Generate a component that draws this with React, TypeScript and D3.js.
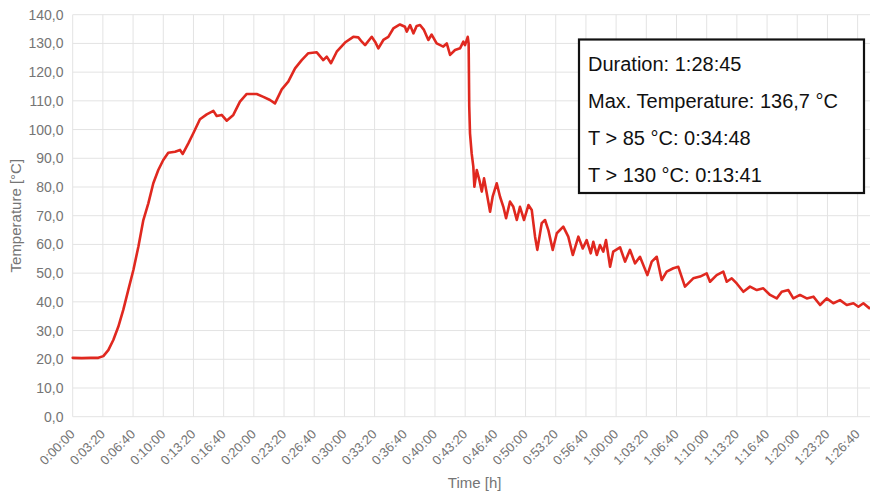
import React from "react";
import * as d3 from "d3";

const timeSec = [
  0, 60, 120, 170, 203, 236, 269, 302, 335, 368, 402, 435, 468, 501, 534, 567, 600, 633, 678, 711,
  729, 766, 799, 843, 888, 932, 954, 987, 1020, 1064, 1108, 1153, 1219, 1263, 1307, 1340, 1385, 1428,
  1473, 1517, 1561, 1617, 1660, 1683, 1711, 1749, 1804, 1859, 1892, 1915, 1937, 1981, 2003, 2025, 2058,
  2091, 2124, 2168, 2201, 2213, 2235, 2257, 2279, 2301, 2327, 2356, 2378, 2411, 2455, 2478, 2500, 2533,
  2566, 2588, 2599, 2617, 2623, 2627, 2632, 2643, 2654, 2661, 2677, 2694, 2710, 2725, 2743, 2765, 2782,
  2809, 2831, 2853, 2871, 2897, 2919, 2942, 2963, 2990, 3019, 3041, 3063, 3078, 3107, 3129, 3151, 3180,
  3207, 3250, 3283, 3313, 3350, 3379, 3405, 3432, 3449, 3472, 3493, 3515, 3533, 3560, 3581, 3626, 3659,
  3692, 3725, 3758, 3807, 3836, 3869, 3902, 3935, 3979, 4012, 4056, 4111, 4156, 4200, 4222, 4266, 4310,
  4333, 4366, 4399, 4443, 4487, 4532, 4575, 4620, 4664, 4697, 4741, 4774, 4818, 4863, 4907, 4951, 4995,
  5039, 5083, 5128, 5172, 5205, 5238, 5277, 5325,
];

const tempC = [
  20.5, 20.4, 20.5, 20.5, 21.1, 23.2, 26.7, 31.3, 37.2, 44.1, 51.1, 59.2, 68.5, 74.3, 81.3, 85.9, 89.4, 91.9, 92.3, 92.9,
  91.5, 95.2, 98.7, 103.6, 105.3, 106.5, 104.7, 105.1, 103.1, 105.1, 109.7, 112.4, 112.4, 111.4, 110.3, 109.1, 114.0, 116.7,
  121.3, 124.2, 126.6, 126.9, 124.2, 125.4, 123.1, 127.1, 130.3, 132.3, 132.1, 130.6, 129.4, 132.3, 130.6, 128.3, 131.2,
  132.3, 135.2, 136.6, 135.8, 134.1, 136.4, 133.5, 136.1, 136.4, 134.7, 131.2, 133.1, 130.0, 128.9, 130.0, 126.0, 127.7,
  128.3, 130.6, 129.4, 132.3, 130.0, 108.0, 98.7, 91.7, 87.1, 80.1, 85.9, 82.4, 78.4, 83.0, 77.8, 71.4, 76.6,
  81.3, 76.6, 73.1, 69.1, 74.9, 73.1, 68.5, 73.1, 68.5, 73.7, 72.0, 62.7, 58.1, 67.4, 68.5, 65.0, 58.1,
  63.9, 66.2, 62.7, 56.3, 62.7, 58.6, 61.5, 56.9, 60.9, 56.3, 59.8, 57.5, 61.5, 52.2, 57.5, 59.0, 54.0,
  58.1, 53.4, 55.7, 49.3, 54.0, 55.7, 47.6, 50.5, 51.7, 52.2, 45.3, 48.2, 48.8, 49.9, 47.0, 49.3, 50.5,
  47.0, 48.2, 46.4, 43.5, 45.3, 44.1, 44.7, 42.4, 41.2, 43.5, 44.1, 41.2, 42.4, 41.2, 41.8, 38.9, 41.2,
  39.5, 40.6, 38.9, 39.5, 38.3, 39.5, 37.8, 38.5,
];

const yTicks = [0, 10, 20, 30, 40, 50, 60, 70, 80, 90, 100, 110, 120, 130, 140];
const xTickSec = [
  0, 200, 400, 600, 800, 1000, 1200, 1400, 1600, 1800, 2000, 2200, 2400, 2600, 2800, 3000, 3200, 3400,
  3600, 3800, 4000, 4200, 4400, 4600, 4800, 5000, 5200,
];
const xTickLabels = [
  "0:00:00", "0:03:20", "0:06:40", "0:10:00", "0:13:20", "0:16:40", "0:20:00", "0:23:20", "0:26:40",
  "0:30:00", "0:33:20", "0:36:40", "0:40:00", "0:43:20", "0:46:40", "0:50:00", "0:53:20", "0:56:40",
  "1:00:00", "1:03:20", "1:06:40", "1:10:00", "1:13:20", "1:16:40", "1:20:00", "1:23:20", "1:26:40",
];
const infoLines = [
  "Duration: 1:28:45",
  "Max. Temperature: 136,7 °C",
  "T > 85 °C: 0:34:48",
  "T > 130 °C: 0:13:41",
];
const durationSec = 5325;

const W = 870;
const H = 495;
const left = 72.7;
const top = 14.7;
const bottom = 416.7;
const pxPer200 = 30.19;
const right = left + (durationSec / 200) * pxPer200;

const FONT = "'Liberation Sans', Arial, Helvetica, sans-serif";

export default function App() {
  const x = d3.scaleLinear().domain([0, durationSec]).range([left, right]);
  const y = d3.scaleLinear().domain([0, 140]).range([bottom, top]);
  const pts = timeSec.map((t, i) => [t, tempC[i]] as [number, number]);
  const line = d3
    .line<[number, number]>()
    .x((d) => x(d[0]))
    .y((d) => y(d[1]));

  return (
    <svg
      width={W}
      height={H}
      style={{ position: "absolute", left: 0, top: 0, background: "#fff" }}
      fontFamily={FONT}
    >
      <rect x={0} y={0} width={W} height={H} fill="#fff" />
      {yTicks.map((v) => (
        <line key={"gy" + v} x1={left} x2={W} y1={y(v)} y2={y(v)} stroke="#e3e3e3" strokeWidth={1} />
      ))}
      {xTickSec.map((t) => (
        <line key={"gx" + t} x1={x(t)} x2={x(t)} y1={top} y2={bottom} stroke="#e3e3e3" strokeWidth={1} />
      ))}
      {yTicks.map((v) => (
        <text
          key={"ty" + v}
          x={63.5}
          y={y(v)}
          dy="0.36em"
          textAnchor="end"
          fontSize={14}
          fill="#757575"
        >
          {v.toFixed(1).replace(".", ",")}
        </text>
      ))}
      {xTickSec.map((t, i) => (
        <text
          key={"tx" + t}
          transform={`translate(${x(t) + 3},${435}) rotate(-45)`}
          textAnchor="end"
          fontSize={13}
          fill="#757575"
        >
          {xTickLabels[i]}
        </text>
      ))}
      <text
        transform={`translate(20.5,${(top + bottom) / 2}) rotate(-90)`}
        textAnchor="middle"
        fontSize={15}
        fill="#757575"
      >
        Temperature [°C]
      </text>
      <text x={(left + right) / 2} y={488} textAnchor="middle" fontSize={15} fill="#757575">
        Time [h]
      </text>
      <path
        d={line(pts) || ""}
        fill="none"
        stroke="#e0281f"
        strokeWidth={2.6}
        strokeLinejoin="round"
        strokeLinecap="round"
      />
      <rect x={579} y={39.5} width={285} height={153.5} fill="#fff" stroke="#111" strokeWidth={2.2} />
      {infoLines.map((s, i) => (
        <text key={s} x={588} y={70.7 + i * 37.2} fontSize={20} fill="#111">
          {s}
        </text>
      ))}
    </svg>
  );
}
